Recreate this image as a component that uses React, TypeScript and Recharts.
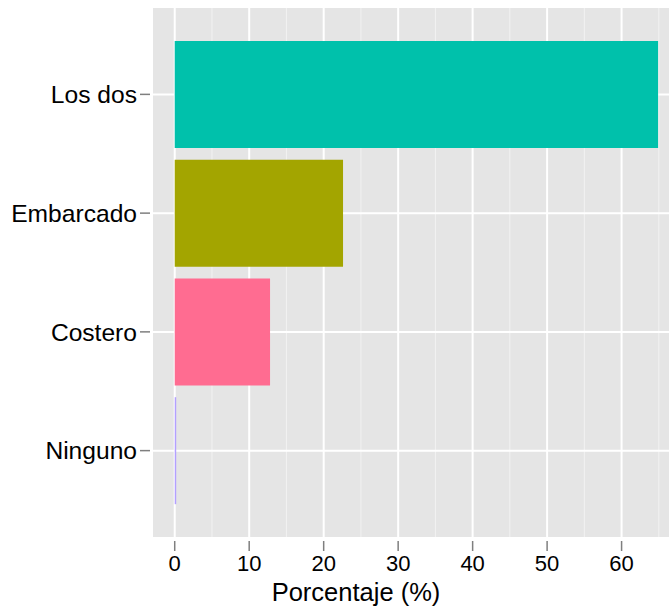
import React from 'react';
import {
  BarChart,
  Bar,
  XAxis,
  YAxis,
  CartesianGrid,
  Cell,
} from 'recharts';

const categories = ['Los dos', 'Embarcado', 'Costero', 'Ninguno'];
const percentages = [64.9, 22.6, 12.8, 0.2];
const barColors = ['#00C1AB', '#A3A500', '#FF6C91', '#B3A0FF'];
const majorTicks = [0, 10, 20, 30, 40, 50, 60];
const minorTicks = [5, 15, 25, 35, 45, 55, 65];

const data = categories.map((name, i) => ({ name, value: percentages[i] }));

const FONT = 'Liberation Sans, Arial, Helvetica, sans-serif';

const XTick = (props: any) => {
  const { x, y, payload } = props;
  return (
    <g>
      <line x1={x} x2={x} y1={y + 3} y2={y + 13} stroke='#7F7F7F' strokeWidth={1.5} />
      <text x={x} y={y + 32.5} textAnchor='middle' fontSize={22} fontFamily={FONT} fill='#000'>
        {payload.value}
      </text>
    </g>
  );
};

const YTick = (props: any) => {
  const { x, y, payload } = props;
  return (
    <g>
      <line x1={x - 12} x2={x - 2} y1={y} y2={y} stroke='#7F7F7F' strokeWidth={1.5} />
      <text x={x - 15} y={y + 8.8} textAnchor='end' fontSize={24.6} fontFamily={FONT} fill='#000'>
        {payload.value}
      </text>
    </g>
  );
};

const App = () => {
  return (
    <div style={{ position: 'absolute', left: 0, top: 0, width: 670, height: 607 }}>
      <BarChart
        width={670}
        height={607}
        data={data}
        layout='vertical'
        margin={{ top: 7, right: 0, bottom: 0, left: 0 }}
        barCategoryGap='5%'
      >
        <XAxis
          xAxisId='minor'
          type='number'
          domain={[-3.05, 66.5]}
          ticks={minorTicks}
          allowDataOverflow
          hide
        />
        <XAxis
          type='number'
          domain={[-3.05, 66.5]}
          ticks={majorTicks}
          allowDataOverflow
          axisLine={false}
          tickLine={false}
          tickSize={0}
          tickMargin={0}
          height={69}
          tick={<XTick />}
          interval={0}
        />
        <YAxis
          type='category'
          dataKey='name'
          width={152}
          axisLine={false}
          tickLine={false}
          tickSize={0}
          tickMargin={0}
          padding={{ top: 28, bottom: 28 }}
          tick={<YTick />}
          interval={0}
        />
        <CartesianGrid
          xAxisId='minor'
          fill='#E5E5E5'
          fillOpacity={1}
          stroke='#F2F2F2'
          strokeWidth={1}
          horizontal={false}
        />
        <CartesianGrid stroke='#FFFFFF' strokeWidth={2} />
        <Bar dataKey='value' isAnimationActive={false}>
          {data.map((d, i) => (
            <Cell key={d.name} fill={barColors[i]} />
          ))}
        </Bar>
        <text x={356} y={601} textAnchor='middle' fontSize={25.5} fontFamily={FONT} fill='#000'>
          Porcentaje (%)
        </text>
      </BarChart>
    </div>
  );
};

export default App;
